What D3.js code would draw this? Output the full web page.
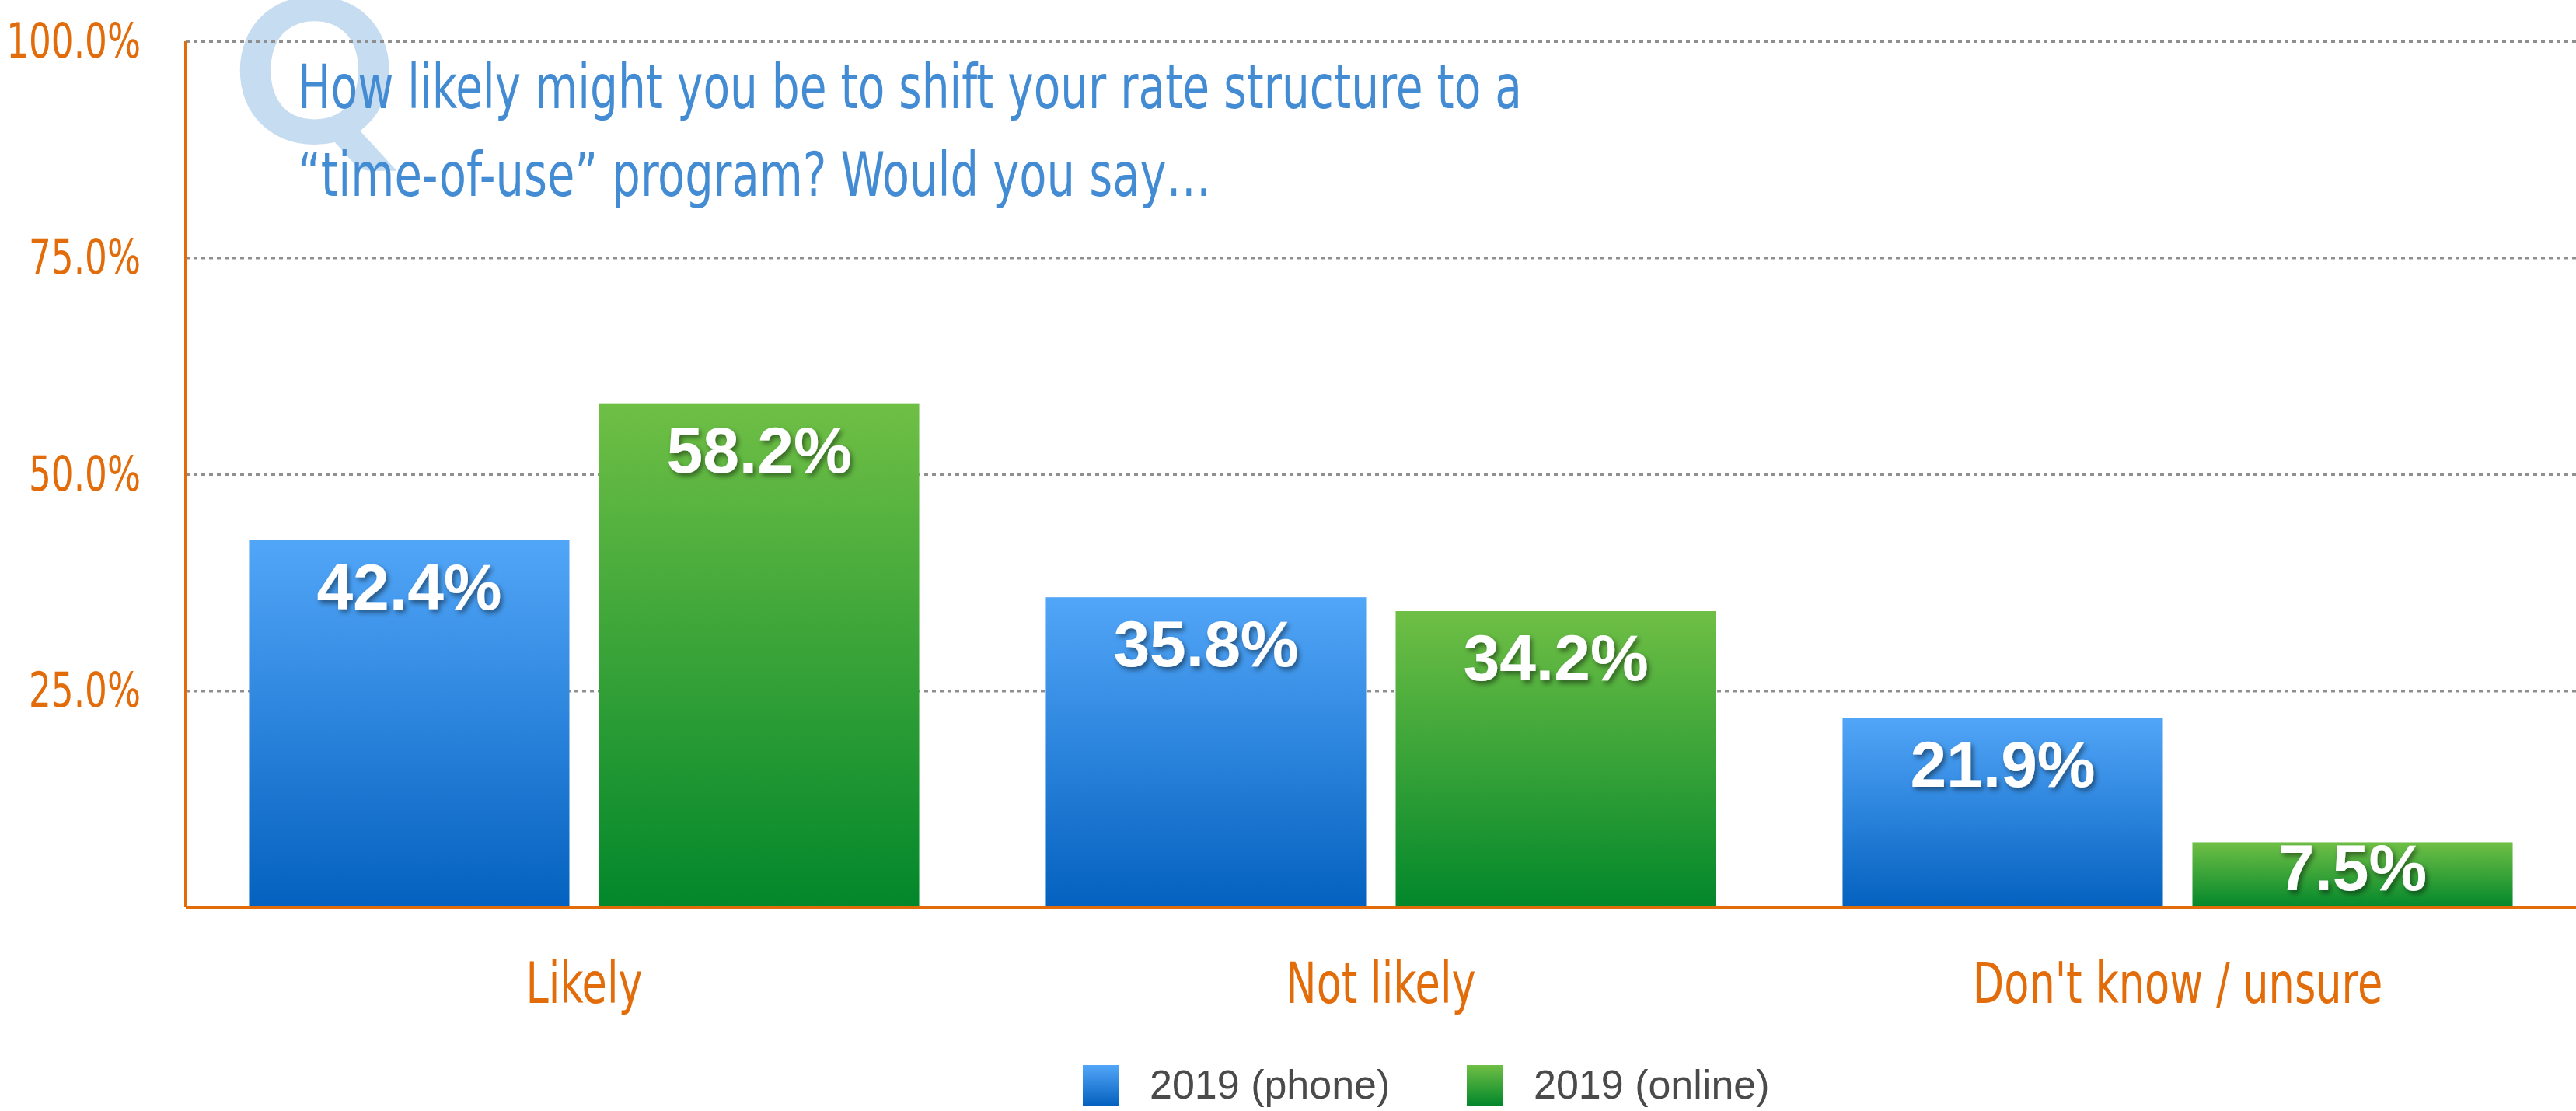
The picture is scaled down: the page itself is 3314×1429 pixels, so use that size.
<!DOCTYPE html>
<html>
<head>
<meta charset="utf-8">
<script src="https://cdn.jsdelivr.net/npm/d3@7"></script>
<style>
  body { margin: 0; background: #fff; }
</style>
</head>
<body>
<div class="chart"></div>
<script>
const categories = ['Likely', 'Not likely', "Don't know / unsure"];
const seriesNames = ['2019 (phone)', '2019 (online)'];
const phoneValues = [42.4, 35.8, 21.9];
const onlineValues = [58.2, 34.2, 7.5];
const yTicks = [25, 50, 75, 100];
const titleLines = ['How likely might you be to shift your rate structure to a',
    '\u201ctime-of-use\u201d program? Would you say\u2026'];

const width = 3314, height = 1429;
const plotLeft = 239, plotTop = 53, plotBottom = 1167;
const orange = '#E36C0A';
const narrow = '"Liberation Sans Narrow", "DejaVu Sans Condensed", "Roboto Condensed", sans-serif';

// the original uses a condensed face; squeeze the installed one to match
function squeeze(sel, k) {
    sel.each(function () {
        let w = this.getComputedTextLength();
        d3.select(this)
            .attr('textLength', w * k)
            .attr('lengthAdjust', 'spacingAndGlyphs');
    });
}

let svg = d3.select('.chart')
    .append('svg')
    .attr('width', width)
    .attr('height', height);

let defs = svg.append('defs');
let gradColors = [['#52A6F8', '#0461BF'], ['#6FBF45', '#02872B']];
gradColors.forEach(function (c, i) {
    let g = defs.append('linearGradient')
        .attr('id', 'grad' + i)
        .attr('x1', 0).attr('y1', 0).attr('x2', 0).attr('y2', 1);
    g.append('stop').attr('offset', '0%').attr('stop-color', c[0]);
    g.append('stop').attr('offset', '100%').attr('stop-color', c[1]);
});
defs.append('filter')
    .attr('id', 'shadow')
    .attr('x', '-20%').attr('y', '-20%').attr('width', '140%').attr('height', '140%')
    .append('feDropShadow')
    .attr('dx', 3).attr('dy', 4)
    .attr('stdDeviation', 3)
    .attr('flood-color', '#000')
    .attr('flood-opacity', 0.45);

let x0 = d3.scaleBand()
    .domain(categories)
    .range([plotLeft, width])
    .padding(0);
let x1 = d3.scaleBand()
    .domain(seriesNames)
    .range([0, x0.bandwidth()])
    .paddingInner(0.0844)
    .paddingOuter(0.181);
let y = d3.scaleLinear()
    .domain([0, 100])
    .range([plotBottom, plotTop]);

// big faded Q behind the question
svg.append('text')
    .attr('x', 300)
    .attr('y', 184)
    .attr('fill', '#C6DCF0')
    .style('font-family', 'Lato, "Noto Sans", "Liberation Sans", sans-serif')
    .style('font-weight', 900)
    .style('font-size', '258px')
    .text('Q');

// gridlines
let grid = svg.append('g')
    .attr('transform', `translate(${plotLeft}, 0)`)
    .call(d3.axisLeft(y).tickValues(yTicks).tickSize(-(width - plotLeft)).tickFormat(''));
grid.select('.domain').remove();
grid.selectAll('line')
    .attr('stroke', '#8f8f8f')
    .attr('stroke-width', 3)
    .attr('stroke-dasharray', '5,5');

// question text
svg.append('g')
    .selectAll('text')
    .data(titleLines)
    .join('text')
    .attr('x', 383)
    .attr('y', (d, i) => 139 + i * 113)
    .attr('textLength', (d, i) => i === 0 ? 1575 : 1175)
    .attr('lengthAdjust', 'spacingAndGlyphs')
    .attr('fill', '#438CD3')
    .style('font-family', narrow)
    .style('font-size', '78px')
    .text(d => d);

// bars
let rows = categories.map((c, i) => ({cat: c, values: [phoneValues[i], onlineValues[i]]}));
let groups = svg.append('g')
    .selectAll('g')
    .data(rows)
    .join('g')
    .attr('transform', d => `translate(${x0(d.cat)}, 0)`);
groups.selectAll('rect')
    .data(d => d.values.map((v, i) => ({key: seriesNames[i], i: i, v: v})))
    .join('rect')
    .attr('x', d => x1(d.key))
    .attr('y', d => y(d.v))
    .attr('width', x1.bandwidth())
    .attr('height', d => y(0) - y(d.v))
    .attr('fill', d => `url(#grad${d.i})`);
groups.selectAll('text')
    .data(d => d.values.map((v, i) => ({key: seriesNames[i], i: i, v: v})))
    .join('text')
    .attr('x', d => x1(d.key) + x1.bandwidth() / 2)
    .attr('y', d => Math.min(y(d.v) + 89, y(0) - 22))
    .attr('text-anchor', 'middle')
    .attr('fill', '#fff')
    .attr('filter', 'url(#shadow)')
    .style('font-family', '"Liberation Sans", Arial, sans-serif')
    .style('font-weight', 'bold')
    .style('font-size', '84px')
    .text(d => d.v.toFixed(1) + '%');

// y axis labels
let yAxis = svg.append('g')
    .attr('transform', `translate(${plotLeft}, 0)`)
    .call(d3.axisLeft(y).tickValues(yTicks).tickSize(0).tickPadding(58)
        .tickFormat(d => d.toFixed(1) + '%'));
yAxis.select('.domain').remove();
yAxis.selectAll('text')
    .attr('fill', orange)
    .style('font-family', narrow)
    .style('font-size', '63px')
    .call(squeeze, 0.8);

// x axis labels
let xAxis = svg.append('g')
    .attr('transform', `translate(0, ${plotBottom})`)
    .call(d3.axisBottom(x0).tickSize(0));
xAxis.select('.domain').remove();
xAxis.selectAll('text')
    .attr('dy', null)
    .attr('y', 123)
    .attr('fill', orange)
    .style('font-family', narrow)
    .style('font-size', '73px')
    .call(squeeze, 0.8);

// axis lines
svg.append('line')
    .attr('x1', plotLeft).attr('x2', plotLeft)
    .attr('y1', y(100)).attr('y2', y(0))
    .attr('stroke', orange).attr('stroke-width', 4);
svg.append('line')
    .attr('x1', plotLeft).attr('x2', width)
    .attr('y1', y(0)).attr('y2', y(0))
    .attr('stroke', orange).attr('stroke-width', 4);

// legend
let legend = svg.append('g')
    .selectAll('g')
    .data(seriesNames)
    .join('g')
    .attr('transform', (d, i) => `translate(${1393 + i * 494}, 1370)`);
legend.append('rect')
    .attr('width', 46)
    .attr('height', 52)
    .attr('fill', (d, i) => `url(#grad${i})`);
legend.append('text')
    .attr('x', 86)
    .attr('y', 43)
    .attr('fill', '#4a4a4a')
    .style('font-family', '"Liberation Sans", Arial, sans-serif')
    .style('font-size', '52px')
    .text(d => d);
</script>
</body>
</html>
